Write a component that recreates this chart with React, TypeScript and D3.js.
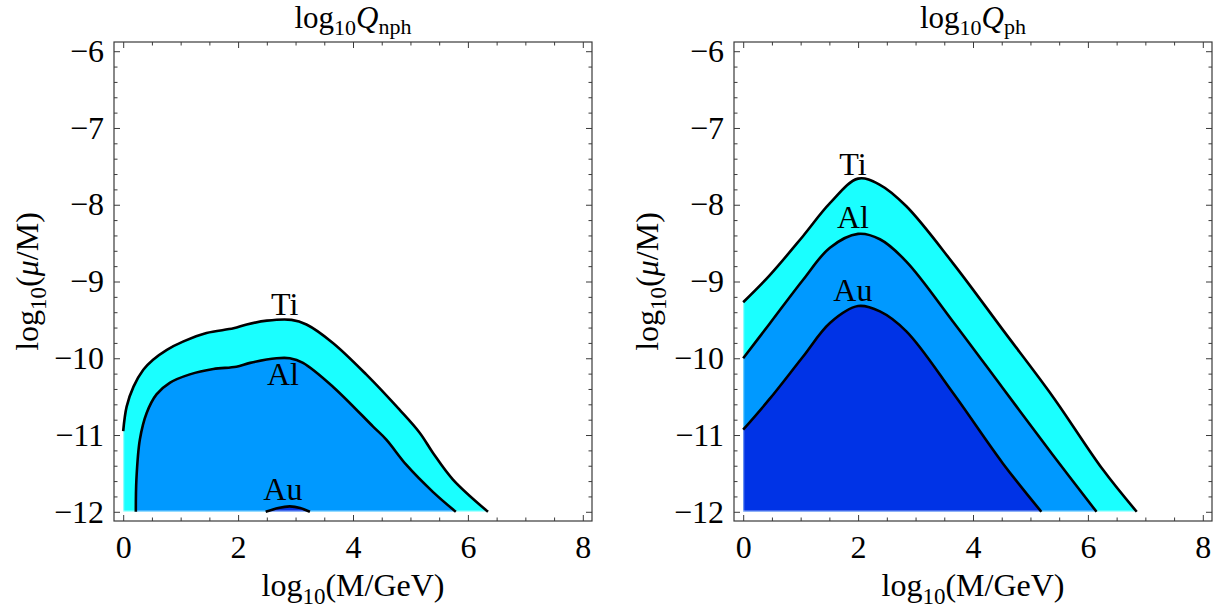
import React, { useRef, useEffect } from 'react';
import * as d3 from 'd3';

type Pt = [number, number];

const xTicks = [0, 2, 4, 6, 8];
const yTicks = [-12, -11, -10, -9, -8, -7, -6];

// left panel: log10 Q_nph contours
const nphTi: Pt[] = [
  [0, -10.95], [0.06, -10.63], [0.18, -10.37], [0.35, -10.15], [0.52, -10.02], [0.76, -9.89],
  [1.05, -9.78], [1.45, -9.67], [1.92, -9.61], [2.15, -9.56], [2.5, -9.51], [2.93, -9.5],
  [3.19, -9.56], [3.65, -9.8], [4.23, -10.21], [4.81, -10.67], [5.16, -10.97], [5.39, -11.23],
  [5.74, -11.58], [6.35, -12],
];
const nphAl: Pt[] = [
  [0.22, -12], [0.23, -11.58], [0.29, -11.06], [0.41, -10.71], [0.58, -10.47], [0.81, -10.32],
  [1.16, -10.21], [1.57, -10.14], [1.97, -10.11], [2.21, -10.06], [2.67, -10.0], [2.9, -10.0],
  [3.13, -10.06], [3.65, -10.37], [4.35, -10.89], [4.58, -11.06], [4.93, -11.39], [5.39, -11.74],
  [5.79, -12],
];
const nphAu: Pt[] = [[2.48, -12], [2.7, -11.95], [2.9, -11.93], [3.08, -11.95], [3.25, -12]];

// right panel: log10 Q_ph contours
const phTi: Pt[] = [
  [0, -9.27], [0.46, -8.92], [1.04, -8.41], [1.51, -7.98], [2.0, -7.66], [2.38, -7.74],
  [2.84, -8.02], [3.65, -8.76], [4.52, -9.63], [5.39, -10.5], [6.26, -11.45], [6.85, -12],
];
const phAl: Pt[] = [
  [0, -10.0], [0.46, -9.55], [1.04, -8.98], [1.51, -8.56], [2.0, -8.38], [2.38, -8.45],
  [2.84, -8.74], [3.65, -9.52], [4.52, -10.39], [5.39, -11.26], [6.15, -12],
];
const phAu: Pt[] = [
  [0, -10.93], [0.46, -10.53], [1.04, -9.98], [1.51, -9.54], [2.0, -9.32], [2.38, -9.39],
  [2.84, -9.65], [3.65, -10.45], [4.52, -11.37], [5.19, -12],
];

const nphLabels = [
  { text: 'Ti', x: 2.81, y: -9.43 },
  { text: 'Al', x: 2.78, y: -10.35 },
  { text: 'Au', x: 2.78, y: -11.85 },
];
const phLabels = [
  { text: 'Ti', x: 1.91, y: -7.61 },
  { text: 'Al', x: 1.91, y: -8.3 },
  { text: 'Au', x: 1.91, y: -9.25 },
];

const colors = { Ti: '#1affff', Al: '#0099ff', Au: '#0033e6' };
const FONT = '"Liberation Serif", "Times New Roman", serif';
const frameColor = '#3a3a3a';

const W = 478;
const H = 479;
const TOP = 42;
const FS = 32;

function drawPanel(root: any, x0: number, sub: string, curves: { pts: Pt[]; color: string }[], labels: typeof nphLabels) {
  const x = d3.scaleLinear().domain([-0.16, 8.16]).range([x0, x0 + W]);
  const y = d3.scaleLinear().domain([-12.12, -5.88]).range([TOP + H, TOP]);
  const g = root.append('g');

  const line = d3
    .line<Pt>()
    .x((d) => x(d[0]))
    .y((d) => y(d[1]))
    .curve(d3.curveCatmullRom.alpha(0.5));

  curves.forEach((c) => {
    const first = c.pts[0];
    g.append('path')
      .attr('d', `${line(c.pts)}L${x(first[0])},${y(-12)}Z`)
      .attr('fill', c.color)
      .attr('stroke', 'none');
  });

  // light antialias seams along the region edges
  const outer = curves[0].pts;
  g.append('line')
    .attr('x1', x(outer[0][0])).attr('x2', x(outer[outer.length - 1][0]))
    .attr('y1', y(-12) - 0.5).attr('y2', y(-12) - 0.5)
    .attr('stroke', 'rgba(255,255,255,0.55)').attr('stroke-width', 1.5);
  g.append('line')
    .attr('x1', x(0) + 0.5).attr('x2', x(0) + 0.5)
    .attr('y1', y(-12)).attr('y2', y(outer[0][1]))
    .attr('stroke', 'rgba(255,255,255,0.45)').attr('stroke-width', 1.2);

  curves.forEach((c) => {
    g.append('path')
      .attr('d', line(c.pts))
      .attr('fill', 'none')
      .attr('stroke', '#000')
      .attr('stroke-width', 2.6);
  });

  // frame + ticks
  const xMinor = d3.range(0, 8.01, 0.5).filter((v) => !xTicks.includes(v));
  const yMinor = d3.range(-12, -5.99, 0.2).map((v) => +v.toFixed(1)).filter((v) => !yTicks.includes(v));

  const style = (sel: any) => {
    sel.select('.domain').remove();
    sel.selectAll('line').attr('stroke', frameColor).attr('stroke-width', 1);
    sel.attr('font-size', FS).attr('font-family', FONT).attr('color', '#000');
    sel.selectAll('text').attr('font-size', FS).attr('font-family', FONT).attr('fill', '#000');
  };

  const fmt = d3.format('d');
  g.append('g').attr('transform', `translate(0,${TOP + H})`)
    .call(d3.axisBottom(x).tickValues(xTicks).tickSize(-6).tickPadding(14.5).tickFormat(fmt as any)).call(style);
  g.append('g').attr('transform', `translate(0,${TOP + H})`)
    .call(d3.axisBottom(x).tickValues(xMinor).tickSize(-3.5).tickFormat(() => '')).call(style);
  g.append('g').attr('transform', `translate(0,${TOP})`)
    .call(d3.axisTop(x).tickValues(xTicks).tickSize(-6).tickFormat(() => '')).call(style);
  g.append('g').attr('transform', `translate(0,${TOP})`)
    .call(d3.axisTop(x).tickValues(xMinor).tickSize(-3.5).tickFormat(() => '')).call(style);

  g.append('g').attr('transform', `translate(${x0},0)`)
    .call(d3.axisLeft(y).tickValues(yTicks).tickSize(-6).tickPadding(10).tickFormat(fmt as any)).call(style);
  g.append('g').attr('transform', `translate(${x0},0)`)
    .call(d3.axisLeft(y).tickValues(yMinor).tickSize(-3.5).tickFormat(() => '')).call(style);
  g.append('g').attr('transform', `translate(${x0 + W},0)`)
    .call(d3.axisRight(y).tickValues(yTicks).tickSize(-6).tickFormat(() => '')).call(style);
  g.append('g').attr('transform', `translate(${x0 + W},0)`)
    .call(d3.axisRight(y).tickValues(yMinor).tickSize(-3.5).tickFormat(() => '')).call(style);

  g.append('rect')
    .attr('x', x0).attr('y', TOP).attr('width', W).attr('height', H)
    .attr('fill', 'none').attr('stroke', frameColor).attr('stroke-width', 1.2);

  // contour labels
  labels.forEach((l) => {
    g.append('text')
      .attr('x', x(l.x)).attr('y', y(l.y))
      .attr('text-anchor', 'middle')
      .attr('font-size', FS).attr('font-family', FONT)
      .text(l.text);
  });

  // title
  const t = g.append('text')
    .attr('x', x0 + W / 2).attr('y', 28)
    .attr('text-anchor', 'middle')
    .attr('font-size', 31).attr('font-family', FONT);
  t.append('tspan').text('log');
  t.append('tspan').attr('font-size', 22).attr('dy', 7).text('10');
  t.append('tspan').attr('font-style', 'italic').attr('dy', -7).text('Q');
  t.append('tspan').attr('font-size', 22).attr('dy', 6).text(sub);

  // x axis label
  const xl = g.append('text')
    .attr('x', x0 + W / 2).attr('y', 596)
    .attr('text-anchor', 'middle')
    .attr('font-size', FS).attr('font-family', FONT);
  xl.append('tspan').text('log');
  xl.append('tspan').attr('font-size', 23).attr('dy', 8).text('10');
  xl.append('tspan').attr('dy', -8).text('(M/GeV)');

  // y axis label
  const yl = g.append('text')
    .attr('transform', `translate(${x0 - 76},${TOP + H / 2}) rotate(-90)`)
    .attr('text-anchor', 'middle')
    .attr('font-size', FS).attr('font-family', FONT);
  yl.append('tspan').text('log');
  yl.append('tspan').attr('font-size', 23).attr('dy', 8).text('10');
  yl.append('tspan').attr('dy', -8).text('(');
  yl.append('tspan').attr('font-style', 'italic').text('μ');
  yl.append('tspan').text('/M)');
}

export default function App() {
  const svgRef = useRef<SVGSVGElement>(null);

  useEffect(() => {
    const svg = d3.select(svgRef.current);
    svg.selectAll('*').remove();
    svg.append('rect').attr('width', 1219).attr('height', 612).attr('fill', '#fff');

    drawPanel(svg, 114, 'nph', [
      { pts: nphTi, color: colors.Ti },
      { pts: nphAl, color: colors.Al },
      { pts: nphAu, color: colors.Au },
    ], nphLabels);

    drawPanel(svg, 734, 'ph', [
      { pts: phTi, color: colors.Ti },
      { pts: phAl, color: colors.Al },
      { pts: phAu, color: colors.Au },
    ], phLabels);
  }, []);

  return (
    <svg
      ref={svgRef}
      width={1219}
      height={612}
      style={{ position: 'absolute', left: 0, top: 0, display: 'block' }}
    />
  );
}
